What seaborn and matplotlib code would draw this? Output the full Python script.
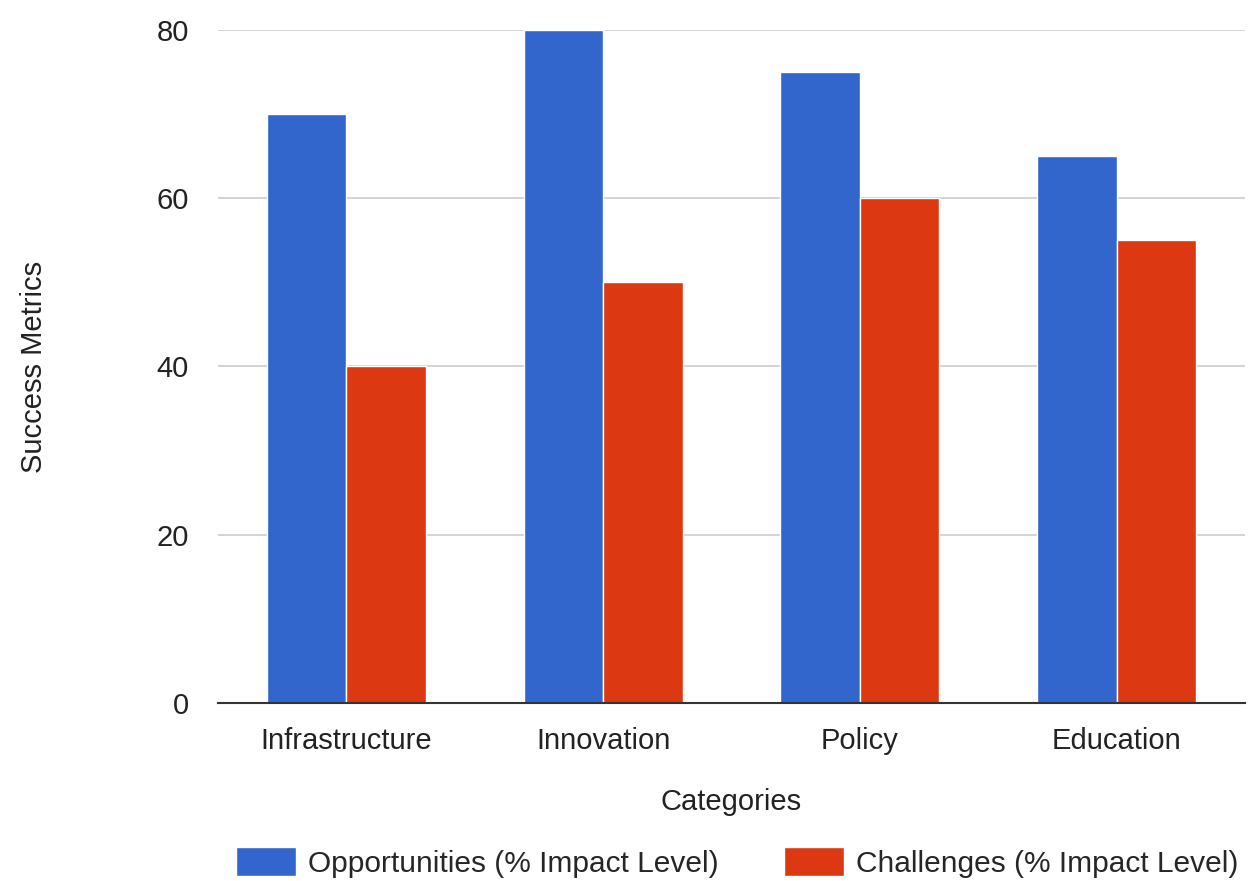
import matplotlib
matplotlib.use("Agg")
import matplotlib.pyplot as plt
import seaborn as sns
import pandas as pd
from matplotlib.patches import Patch

categories = ["Infrastructure", "Innovation", "Policy", "Education"]
opportunities = [70, 80, 75, 65]
challenges = [40, 50, 60, 55]
series_names = ["Opportunities (% Impact Level)", "Challenges (% Impact Level)"]
colors = ["#3366CC", "#DC3912"]

df = pd.DataFrame({
    "Category": categories * 2,
    "Value": opportunities + challenges,
    "Series": [series_names[0]] * 4 + [series_names[1]] * 4,
})

sns.set_theme(style="white")
plt.rcParams['font.family'] = ['Liberation Sans', 'DejaVu Sans']

fig = plt.figure(figsize=(12.5, 8.81), dpi=100)
ax = fig.add_axes([0.1744, 0.202, 0.8216, 0.764])

sns.barplot(data=df, x="Category", y="Value", hue="Series", palette=colors,
            width=0.62, gap=0.0, ax=ax, legend=False, saturation=1)

ax.set_ylim(0, 80)
ax.set_yticks([0, 20, 40, 60, 80])
ax.yaxis.grid(True, color="#cccccc", linewidth=1.2)
ax.set_axisbelow(True)
for s in ["top", "right", "left"]:
    ax.spines[s].set_visible(False)
ax.spines["bottom"].set_color("#333333")
ax.spines["bottom"].set_linewidth(1.5)
ax.tick_params(axis="both", length=0, labelsize=21, colors="#222222")
ax.tick_params(axis="y", pad=21)
ax.tick_params(axis="x", pad=17)
ax.set_xlabel("Categories", fontsize=21, color="#222222", labelpad=24)
ax.set_ylabel("Success Metrics", fontsize=21, color="#222222", labelpad=78)

handles = [Patch(facecolor=c, label=n) for c, n in zip(colors, series_names)]
fig.legend(handles=handles, loc="center", bbox_to_anchor=(0.59, 0.021), ncol=2,
           frameon=False, fontsize=21.5, handlelength=2.0, handleheight=1.1,
           columnspacing=2.2, handletextpad=0.4)

fig.savefig("out.png", dpi=100)
